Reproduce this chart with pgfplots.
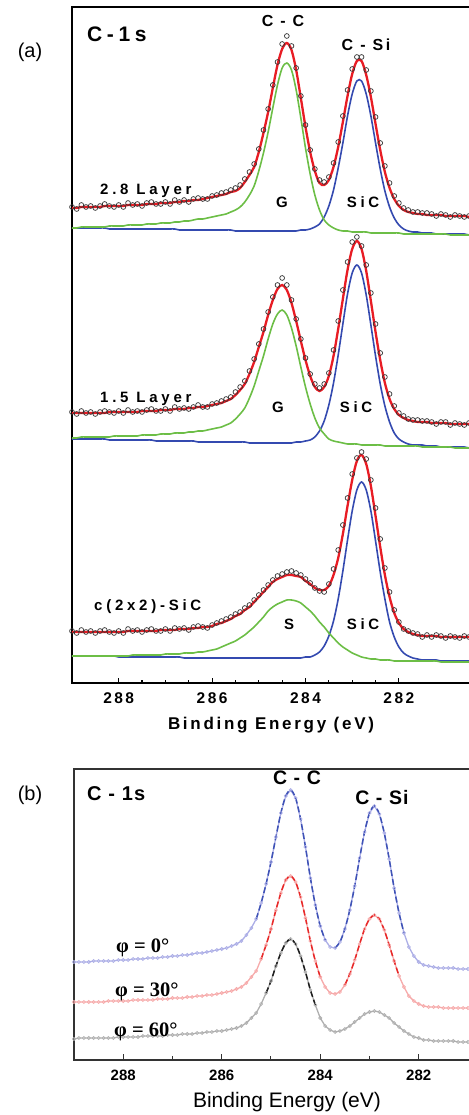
\documentclass[border=0pt]{standalone}
\usepackage{fontspec}
\setmainfont{Liberation Sans}
\newfontfamily\spaced[LetterSpace=16]{Liberation Sans}
\newfontfamily\spacedL[LetterSpace=25]{Liberation Sans}
\newfontfamily\spacedw[LetterSpace=22]{Liberation Sans}
\newfontfamily\spacedb[LetterSpace=6]{Liberation Sans}
\newfontfamily\phifont{Liberation Serif}
\usepackage{pgfplots}
\usepackage{pgfplotstable}
\pgfplotsset{compat=1.18}
\definecolor{fitred}{RGB}{232,28,36}
\definecolor{cgreen}{RGB}{108,190,70}
\definecolor{cblue}{RGB}{52,74,176}
\definecolor{bblue}{RGB}{62,82,182}
\definecolor{lblue}{RGB}{172,174,230}
\definecolor{bred}{RGB}{232,40,40}
\definecolor{lred}{RGB}{246,170,170}
\definecolor{bblack}{RGB}{30,30,30}
\definecolor{lgray}{RGB}{175,175,175}

\pgfplotstableread{
x G S fit dat
289.0 455 455 475 476
288.9 455 455 475 474
288.8 456 455 476 478
288.7 456 455 476 476
288.6 456 455 476 477
288.5 456 455 476 475
288.4 456 455 476 477
288.3 456 455 477 479
288.2 457 454 477 477
288.1 457 454 477 476
288.0 457 454 477 478
287.9 457 454 477 476
287.8 458 454 478 480
287.7 458 454 478 478
287.6 458 454 478 479
287.5 458 454 478 477
287.4 459 454 479 480
287.3 459 454 479 481
287.2 459 454 479 479
287.1 460 454 480 479
287.0 460 454 480 481
286.9 460 454 480 479
286.8 461 454 481 483
286.7 461 453 481 481
286.6 462 453 482 483
286.5 462 453 482 481
286.4 463 453 483 484
286.3 464 453 483 485
286.2 464 453 484 484
286.1 465 453 485 484
286.0 466 453 486 487
285.9 467 453 487 488
285.8 468 453 488 490
285.7 469 453 489 491
285.6 471 453 491 493
285.5 473 452 492 495
285.4 476 452 495 498
285.3 481 452 501 504
285.2 488 452 508 511
285.1 497 452 516 519
285.0 512 452 531 534
284.9 530 452 550 553
284.8 551 452 571 574
284.7 575 452 595 598
284.6 598 452 618 621
284.5 615 452 634 639
284.4 620 452 640 647
284.3 613 452 633 637
284.2 593 452 613 615
284.1 565 453 585 587
284.0 535 453 556 558
283.9 509 454 531 533
283.8 488 456 512 514
283.7 473 459 500 503
283.6 463 466 498 501
283.5 458 477 503 506
283.4 455 493 516 520
283.3 453 515 536 541
283.2 452 540 561 567
283.1 452 567 587 593
283.0 451 589 609 614
282.9 451 602 622 626
282.8 451 602 622 626
282.7 451 589 608 613
282.6 450 567 586 592
282.5 450 540 559 566
282.4 450 514 533 540
282.3 450 492 511 517
282.2 450 476 495 500
282.1 450 465 484 487
282.0 450 458 477 480
281.9 449 454 473 475
281.8 449 452 471 473
281.7 449 451 470 471
281.6 449 451 469 471
281.5 449 450 469 470
281.4 449 450 468 470
281.3 449 450 468 469
281.2 449 449 468 467
281.1 449 449 468 469
281.0 449 449 467 468
280.9 448 449 467 466
280.8 448 449 467 468
280.7 448 449 467 467
280.6 448 449 467 466
280.5 448 448 466 467
}\topa

\pgfplotstableread{
x G S fit dat
289.0 245 244 270 271
288.9 245 244 270 269
288.8 246 244 270 272
288.7 246 244 270 270
288.6 246 244 270 271
288.5 246 244 270 269
288.4 246 244 270 271
288.3 246 244 270 272
288.2 246 243 271 271
288.1 247 243 271 270
288.0 247 243 271 272
287.9 247 243 271 270
287.8 247 243 271 273
287.7 247 243 271 271
287.6 247 243 271 272
287.5 248 243 272 271
287.4 248 243 272 273
287.3 248 243 272 274
287.2 248 242 272 272
287.1 249 242 273 272
287.0 249 242 273 274
286.9 249 242 273 272
286.8 250 242 274 276
286.7 250 242 274 274
286.6 250 242 274 275
286.5 251 242 275 274
286.4 251 242 275 276
286.3 252 241 276 278
286.2 252 241 276 276
286.1 253 241 277 276
286.0 254 241 278 279
285.9 255 241 279 280
285.8 256 241 280 282
285.7 258 241 282 284
285.6 260 241 284 286
285.5 264 241 288 291
285.4 269 241 293 296
285.3 275 241 299 302
285.2 285 240 309 312
285.1 297 240 321 324
285.0 312 240 336 339
284.9 327 240 351 354
284.8 344 240 368 371
284.7 359 240 383 386
284.6 369 240 394 398
284.5 373 240 398 405
284.4 368 240 393 398
284.3 355 240 380 383
284.2 337 241 362 364
284.1 316 241 342 344
284.0 296 242 323 325
283.9 279 243 307 309
283.8 265 246 296 299
283.7 255 252 292 295
283.6 249 262 296 299
283.5 244 278 307 310
283.4 242 300 327 333
283.3 241 328 354 362
283.2 240 359 384 393
283.1 239 389 413 421
283.0 239 410 434 441
282.9 239 418 442 446
282.8 238 410 434 437
282.7 238 388 412 418
282.6 238 358 382 390
282.5 238 327 351 359
282.4 238 299 323 330
282.3 237 277 300 306
282.2 237 261 284 289
282.1 237 250 274 277
282.0 237 244 268 270
281.9 237 241 265 267
281.8 237 239 263 264
281.7 237 238 262 263
281.6 237 238 261 263
281.5 236 238 261 262
281.4 236 237 261 262
281.3 236 237 260 261
281.2 236 237 260 259
281.1 236 236 260 261
281.0 236 236 260 261
280.9 236 236 259 258
280.8 235 236 259 260
280.7 235 236 259 259
280.6 235 236 259 258
280.5 235 235 259 260
}\mida

\pgfplotstableread{
x G S fit dat
289.0 27 27 51 52
288.9 27 27 51 50
288.8 27 27 51 53
288.7 27 27 51 51
288.6 27 27 51 52
288.5 27 27 51 50
288.4 27 27 51 52
288.3 27 27 51 53
288.2 27 27 51 51
288.1 27 27 51 50
288.0 27 26 51 52
287.9 27 26 51 50
287.8 27 26 52 54
287.7 28 26 52 52
287.6 28 26 52 53
287.5 28 26 52 51
287.4 28 26 52 53
287.3 28 26 52 54
287.2 28 26 52 52
287.1 28 26 53 52
287.0 29 26 53 54
286.9 29 26 53 52
286.8 29 26 53 55
286.7 29 26 54 54
286.6 30 25 54 55
286.5 30 25 54 53
286.4 30 25 55 56
286.3 31 25 55 57
286.2 31 25 56 56
286.1 32 25 56 55
286.0 33 25 57 58
285.9 34 25 59 60
285.8 36 25 60 62
285.7 38 25 62 64
285.6 40 25 64 66
285.5 42 25 67 69
285.4 45 25 69 71
285.3 48 25 73 75
285.2 52 25 76 78
285.1 56 25 81 83
285.0 61 25 86 88
284.9 66 25 91 93
284.8 72 25 96 98
284.7 76 25 101 103
284.6 79 25 104 107
284.5 81 25 106 109
284.4 83 25 108 111
284.3 83 25 108 112
284.2 82 25 107 110
284.1 80 25 106 108
284.0 76 26 102 104
283.9 72 26 99 100
283.8 67 28 95 95
283.7 61 31 93 92
283.6 56 37 93 91
283.5 50 47 97 99
283.4 45 62 108 114
283.3 40 84 125 133
283.2 36 112 149 158
283.1 33 143 177 185
283.0 30 172 203 209
282.9 28 193 222 225
282.8 26 201 228 231
282.7 25 193 219 224
282.6 24 172 197 203
282.5 24 142 167 175
282.4 23 111 136 144
282.3 23 84 108 115
282.2 23 61 86 91
282.1 22 46 70 73
282.0 22 36 60 61
281.9 22 30 54 54
281.8 22 27 51 52
281.7 22 25 49 50
281.6 22 24 48 49
281.5 22 23 47 46
281.4 22 23 47 48
281.3 22 23 47 46
281.2 22 23 47 48
281.1 21 22 46 47
281.0 21 22 46 45
280.9 21 22 46 47
280.8 21 22 46 46
280.7 21 22 46 45
280.6 21 22 46 47
280.5 21 22 46 46
}\bota

\pgfplotstableread{
x b r k
289.0 98 58 21
288.9 98 58 22
288.8 98 58 22
288.7 98 58 22
288.6 99 58 22
288.5 99 58 22
288.4 99 58 22
288.3 99 59 22
288.2 99 59 22
288.1 100 59 23
288.0 100 59 23
287.9 100 59 23
287.8 101 60 23
287.7 101 60 23
287.6 101 60 24
287.5 102 60 24
287.4 102 60 24
287.3 102 61 24
287.2 103 61 24
287.1 103 61 25
287.0 104 62 25
286.9 104 62 25
286.8 105 62 26
286.7 105 63 26
286.6 106 63 26
286.5 107 64 27
286.4 107 64 27
286.3 108 65 28
286.2 109 65 28
286.1 110 66 29
286.0 111 67 29
285.9 112 68 30
285.8 114 69 31
285.7 116 71 32
285.6 119 73 34
285.5 125 77 37
285.4 132 83 42
285.3 141 89 47
285.2 157 101 56
285.1 176 115 67
285.0 198 131 79
284.9 223 150 94
284.8 247 167 107
284.7 264 180 117
284.6 270 184 121
284.5 262 178 116
284.4 241 163 104
284.3 213 142 88
284.2 182 119 70
284.1 155 99 55
284.0 134 83 42
283.9 120 73 34
283.8 113 67 30
283.7 112 66 28
283.6 118 68 29
283.5 131 75 31
283.4 150 86 34
283.3 174 100 38
283.2 202 116 42
283.1 228 131 46
283.0 247 141 48
282.9 254 145 49
282.8 246 141 48
282.7 227 130 45
282.6 201 115 42
282.5 172 99 37
282.4 147 84 33
282.3 127 73 29
282.2 113 64 26
282.1 104 59 23
282.0 98 56 22
281.9 95 54 20
281.8 94 53 20
281.7 93 53 19
281.6 92 53 19
281.5 92 52 19
281.4 92 52 19
281.3 92 52 19
281.2 91 52 18
281.1 91 52 18
281.0 91 52 18
}\bdat

\begin{document}
\begin{tikzpicture}
\path[use as bounding box] (0pt,0pt) rectangle (468pt,1115pt);

% ---------------- panel (a) ----------------
\begin{axis}[
  at={(72pt,432pt)}, anchor=south west,
  scale only axis, width=406.3pt, height=676pt,
  xmin=280.3, xmax=289, x dir=reverse,
  ymin=0, ymax=676, ytick=\empty,
  xtick={282,284,286,288}, xticklabels={282,284,286,288},
  minor x tick num=3, xtick pos=left, tick align=inside,
  major tick length=5pt, minor tick length=3pt,
  axis line style={line width=1.8pt},
  tick style={line width=1.1pt, black},
  xticklabel style={anchor=base, yshift=-21pt, font=\spaced\bfseries\fontsize{15.5}{16}\selectfont},
]
\addplot[cblue, line width=1.6pt, smooth] table[x=x,y=S]{\topa};
\addplot[cgreen, line width=1.6pt, smooth] table[x=x,y=G]{\topa};
\addplot[fitred, line width=2.3pt, smooth] table[x=x,y=fit]{\topa};
\addplot[only marks, mark=o, mark size=2.4pt, mark options={black!80, line width=0.7pt}] table[x=x,y=dat]{\topa};
\addplot[cblue, line width=1.6pt, smooth] table[x=x,y=S]{\mida};
\addplot[cgreen, line width=1.6pt, smooth] table[x=x,y=G]{\mida};
\addplot[fitred, line width=2.3pt, smooth] table[x=x,y=fit]{\mida};
\addplot[only marks, mark=o, mark size=2.4pt, mark options={black!80, line width=0.7pt}] table[x=x,y=dat]{\mida};
\addplot[cblue, line width=1.6pt, smooth] table[x=x,y=S]{\bota};
\addplot[cgreen, line width=1.6pt, smooth] table[x=x,y=G]{\bota};
\addplot[fitred, line width=2.3pt, smooth] table[x=x,y=fit]{\bota};
\addplot[only marks, mark=o, mark size=2.4pt, mark options={black!80, line width=0.7pt}] table[x=x,y=dat]{\bota};
\end{axis}

% ---------------- panel (b) ----------------
\begin{axis}[
  at={(74pt,55pt)}, anchor=south west,
  scale only axis, width=403.85pt, height=291pt,
  xmin=280.8, xmax=289, x dir=reverse,
  ymin=0, ymax=291, ytick=\empty,
  xtick={282,284,286,288}, xticklabels={282,284,286,288},
  minor x tick num=1, xtick pos=left, tick align=inside,
  major tick length=6pt, minor tick length=4pt,
  axis line style={line width=1.3pt, black!80},
  tick style={line width=1pt, black!80},
  xticklabel style={anchor=base, yshift=-20pt, font=\bfseries\fontsize{15}{16}\selectfont},
]
\addplot[lblue, line width=1.3pt, mark=o, mark size=1.6pt, mark options={lblue, line width=0.6pt, solid}] table[x=x,y=b]{\bdat};
\addplot[bblue, line width=1.5pt, dash pattern=on 6pt off 3pt, smooth, restrict x to domain=283.9:285.3] table[x=x,y=b]{\bdat};
\addplot[bblue, line width=1.5pt, dash pattern=on 6pt off 3pt, smooth, restrict x to domain=282.3:283.7] table[x=x,y=b]{\bdat};
\addplot[lred, line width=1.3pt, mark=o, mark size=1.6pt, mark options={lred, line width=0.6pt, solid}] table[x=x,y=r]{\bdat};
\addplot[bred, line width=1.5pt, dash pattern=on 6pt off 3pt, smooth, restrict x to domain=283.95:285.2] table[x=x,y=r]{\bdat};
\addplot[bred, line width=1.5pt, dash pattern=on 6pt off 3pt, smooth, restrict x to domain=282.35:283.5] table[x=x,y=r]{\bdat};
\addplot[lgray, line width=1.3pt, mark=o, mark size=1.6pt, mark options={lgray, line width=0.6pt, solid}] table[x=x,y=k]{\bdat};
\addplot[bblack, line width=1.5pt, dash pattern=on 6pt off 3pt, smooth, restrict x to domain=284.05:285.1] table[x=x,y=k]{\bdat};
\end{axis}

% ---------------- texts (a) ----------------
\node at (30pt,1063pt) {\fontsize{20}{22}\selectfont (a)};
\node[anchor=base west, inner sep=0pt] at (87pt,1073pt) {\spacedw\bfseries\fontsize{21}{23}\selectfont C-1s};
\node[anchor=base, inner sep=0pt] at (283pt,1088pt) {\spaced\bfseries\fontsize{16}{18}\selectfont C - C};
\node[anchor=base, inner sep=0pt] at (366pt,1064pt) {\spaced\bfseries\fontsize{16}{18}\selectfont C - Si};
\node[anchor=base west, inner sep=0pt] at (100pt,920pt) {\spacedL\bfseries\fontsize{15}{16}\selectfont 2.8 Layer};
\node[anchor=base, inner sep=0pt] at (282pt,907pt) {\spacedL\bfseries\fontsize{15}{16}\selectfont G};
\node[anchor=base, inner sep=0pt] at (363pt,907pt) {\spacedL\bfseries\fontsize{15}{16}\selectfont SiC};
\node[anchor=base west, inner sep=0pt] at (100pt,712pt) {\spacedL\bfseries\fontsize{15}{16}\selectfont 1.5 Layer};
\node[anchor=base, inner sep=0pt] at (278pt,702pt) {\spacedL\bfseries\fontsize{15}{16}\selectfont G};
\node[anchor=base, inner sep=0pt] at (356pt,702pt) {\spacedL\bfseries\fontsize{15}{16}\selectfont SiC};
\node[anchor=base west, inner sep=0pt] at (94pt,504pt) {\spacedL\bfseries\fontsize{15}{16}\selectfont c(2x2)-SiC};
\node[anchor=base, inner sep=0pt] at (289pt,485pt) {\spacedL\bfseries\fontsize{15}{16}\selectfont S};
\node[anchor=base, inner sep=0pt] at (363pt,485pt) {\spacedL\bfseries\fontsize{15}{16}\selectfont SiC};
\node[anchor=base, inner sep=0pt] at (271pt,385pt) {\spaced\bfseries\fontsize{17}{19}\selectfont Binding Energy (eV)};

% ---------------- texts (b) ----------------
\node at (30pt,320pt) {\fontsize{20}{22}\selectfont (b)};
\node[anchor=base west, inner sep=0pt] at (87pt,314pt) {\spacedb\bfseries\fontsize{20}{22}\selectfont C - 1s};
\node[anchor=base, inner sep=0pt] at (297pt,330pt) {\spacedb\bfseries\fontsize{19.5}{21}\selectfont C - C};
\node[anchor=base, inner sep=0pt] at (382pt,310pt) {\spacedb\bfseries\fontsize{19.5}{21}\selectfont C - Si};
\node[anchor=base west, inner sep=0pt] at (116pt,162pt) {\phifont\bfseries\fontsize{20.5}{22}\selectfont φ = 0°};
\node[anchor=base west, inner sep=0pt] at (115pt,118pt) {\phifont\bfseries\fontsize{20.5}{22}\selectfont φ = 30°};
\node[anchor=base west, inner sep=0pt] at (114pt,78pt) {\phifont\bfseries\fontsize{20.5}{22}\selectfont φ = 60°};
\node[anchor=base, inner sep=0pt] at (287pt,7pt) {\fontsize{21}{23}\selectfont Binding Energy (eV)};
\end{tikzpicture}
\end{document}
